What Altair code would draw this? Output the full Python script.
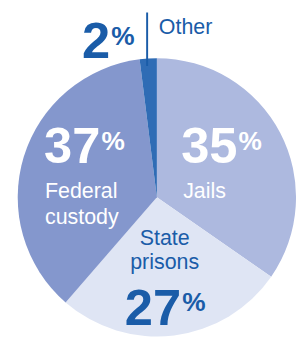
import altair as alt
import pandas as pd

categories = ["Jails", "State prisons", "Federal custody", "Other"]
values = [35, 27, 37, 2]
colors = ["#adb9df", "#dfe5f4", "#8497cd", "#2f6cb5"]
order = [0, 1, 2, 3]

DARK = "#1a5ca8"
FONT = "'Liberation Sans', Arial, sans-serif"

df = pd.DataFrame({"cat": categories, "val": values, "ord": order})

pie = alt.Chart(df).mark_arc(outerRadius=143, stroke=None).encode(
    theta=alt.Theta("val:Q", stack=True),
    color=alt.Color("cat:N", scale=alt.Scale(domain=categories, range=colors), legend=None),
    order=alt.Order("ord:Q"),
    x=alt.value(153), y=alt.value(190),
)

def txt(s, x, y, size, color, bold=False, align="left"):
    return alt.Chart(pd.DataFrame({"t": [s]})).mark_text(
        font=FONT, fontSize=size, fontWeight="bold" if bold else "normal",
        color=color, align=align, baseline="alphabetic",
    ).encode(text="t:N", x=alt.value(x), y=alt.value(y))

big = 52
pct = 27
lab = 22

layers = [pie]
# Federal custody
layers += [txt(str(values[2]), 37, 155, big, "white", True),
           txt("%", 96, 141, pct, "white", True),
           txt("Federal", 38, 191, lab, "white"),
           txt("custody", 38, 217, lab, "white")]
# Jails
layers += [txt(str(values[0]), 178, 155, big, "white", True),
           txt("%", 237, 141, pct, "white", True),
           txt("Jails", 180, 191, lab, "white")]
# State prisons
layers += [txt("State", 161, 239, lab, DARK, align="center"),
           txt("prisons", 161, 264, lab, DARK, align="center"),
           txt(str(values[1]), 120, 321, big, DARK, True),
           txt("%", 179, 307, pct, DARK, True)]
# Other
layers += [txt(str(values[3]), 76, 47, big, DARK, True),
           txt("%", 106, 33, pct, DARK, True),
           txt("Other", 155, 22, 22, DARK)]
rule = alt.Chart(pd.DataFrame({"a": [0]})).mark_rule(color=DARK, strokeWidth=2).encode(
    x=alt.value(143), y=alt.value(0), y2=alt.value(55))
layers.append(rule)

chart = alt.layer(*layers).properties(
    width=296, height=333, autosize=alt.AutoSizeParams(type="none"), padding=0
).configure_view(stroke=None)

chart.save("out.html", embed_options={"renderer": "svg", "actions": False})
